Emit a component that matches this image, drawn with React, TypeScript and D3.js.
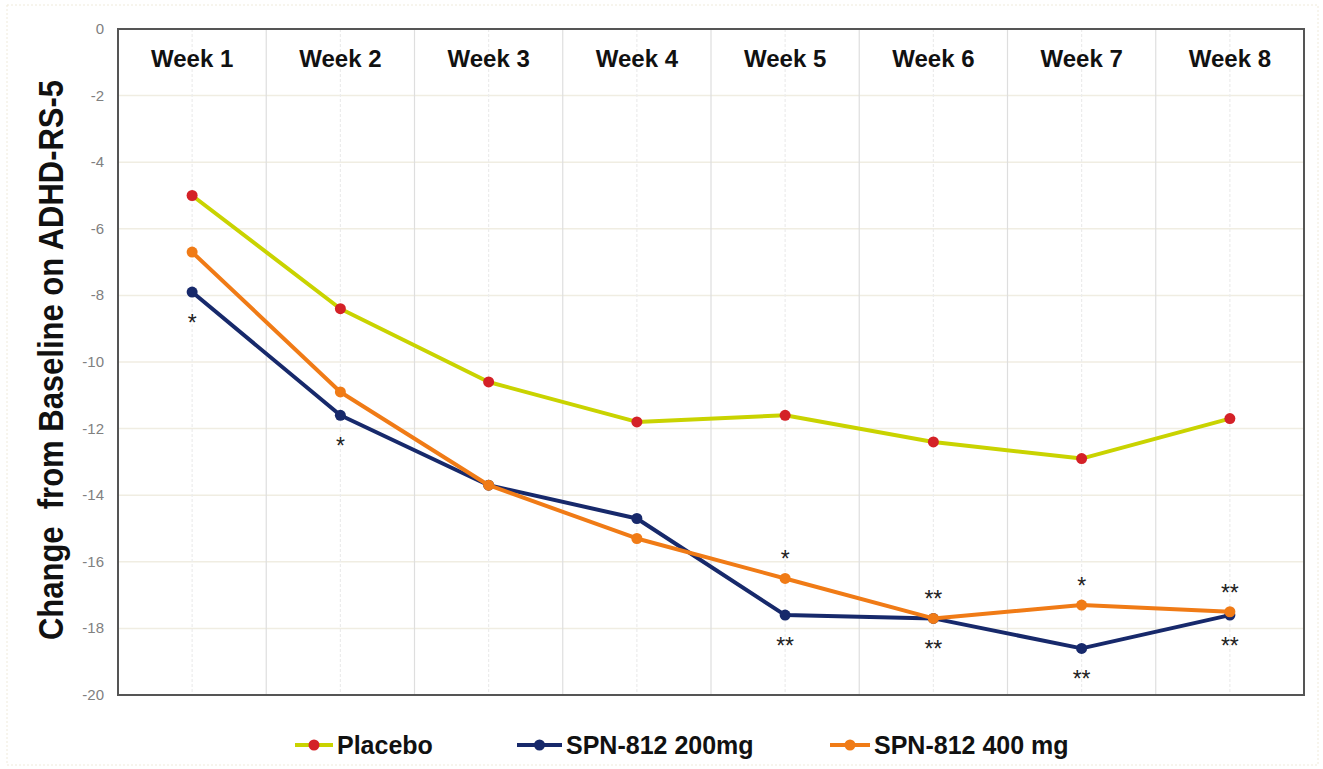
import React from "react";
import * as d3 from "d3";

const weeks = ["Week 1", "Week 2", "Week 3", "Week 4", "Week 5", "Week 6", "Week 7", "Week 8"];
const placebo = [-5.0, -8.4, -10.6, -11.8, -11.6, -12.4, -12.9, -11.7];
const spn200 = [-7.9, -11.6, -13.7, -14.7, -17.6, -17.7, -18.6, -17.6];
const spn400 = [-6.7, -10.9, -13.7, -15.3, -16.5, -17.7, -17.3, -17.5];
const yTicks = [0, -2, -4, -6, -8, -10, -12, -14, -16, -18, -20];
const sigAbove400 = ["", "", "", "", "*", "**", "*", "**"];
const sigBelow200 = ["*", "*", "", "", "**", "**", "**", "**"];

const seriesList = [
  { name: "Placebo", values: placebo, line: "#c9d300", dot: "#d42127" },
  { name: "SPN-812 200mg", values: spn200, line: "#17296b", dot: "#17296b" },
  { name: "SPN-812 400 mg", values: spn400, line: "#f07b16", dot: "#f07b16" },
];

const W = 1323, H = 769;
const left = 118, right = 1304, top = 29, bottom = 695;
const font = "'Liberation Sans', Arial, sans-serif";

export default function App() {
  const x = d3.scaleBand<string>().domain(weeks).range([left, right]);
  const y = d3.scaleLinear().domain([-20, 0]).range([bottom, top]);
  const cx = (i: number) => (x(weeks[i]) as number) + x.bandwidth() / 2;
  const line = d3.line<number>().x((_, i) => cx(i)).y((v) => y(v));

  const legendItems = [
    { s: seriesList[0], x0: 295, x1: 333, tx: 337 },
    { s: seriesList[1], x0: 517, x1: 562, tx: 566 },
    { s: seriesList[2], x0: 830, x1: 870, tx: 874 },
  ];

  return (
    <svg width={W} height={H} style={{ position: "absolute", left: 0, top: 0, background: "#fff" }}>
      <rect x={7} y={5} width={1311} height={760} fill="none" stroke="#efeadb" strokeWidth={1} strokeDasharray="2,2" />
      {yTicks.slice(1, -1).map((t) => (
        <line key={"h" + t} x1={left} x2={right} y1={y(t)} y2={y(t)} stroke="#f0ede2" strokeWidth={1.5} />
      ))}
      {weeks.map((w, i) => (
        <g key={"v" + w}>
          {i > 0 && (
            <line x1={x(w) as number} x2={x(w) as number} y1={top} y2={bottom} stroke="#dedede" strokeWidth={1.2} />
          )}
          <line x1={cx(i)} x2={cx(i)} y1={top} y2={bottom} stroke="#ececec" strokeWidth={1.2} strokeDasharray="3,2" />
        </g>
      ))}
      <rect x={left} y={top} width={right - left} height={bottom - top} fill="none" stroke="#555" strokeWidth={2} />
      {yTicks.map((t) => (
        <text key={"t" + t} x={104} y={y(t) + 5} textAnchor="end" fontFamily={font} fontSize={15} fill="#808080">
          {t}
        </text>
      ))}
      <text
        transform={`translate(63,360) rotate(-90) scale(1,1.15)`}
        textAnchor="middle"
        fontFamily={font}
        fontSize={31}
        fontWeight="bold"
        fill="#111"
        style={{ whiteSpace: "pre" }}
      >
        {"Change  from Baseline on ADHD-RS-5"}
      </text>
      {weeks.map((w, i) => (
        <text key={"w" + w} x={cx(i)} y={67} textAnchor="middle" fontFamily={font} fontSize={24} fontWeight="bold" fill="#111">
          {w}
        </text>
      ))}
      {seriesList.map((s) => (
        <g key={s.name}>
          <path d={line(s.values) as string} fill="none" stroke={s.line} strokeWidth={4} strokeLinejoin="round" />
          {s.values.map((v, i) => (
            <circle key={i} cx={cx(i)} cy={y(v)} r={5.5} fill={s.dot} />
          ))}
        </g>
      ))}
      {sigAbove400.map((s, i) =>
        s ? (
          <text key={"a" + i} x={cx(i)} y={y(spn400[i]) - 11} textAnchor="middle" fontFamily={font} fontSize={23} fill="#222">
            {s}
          </text>
        ) : null
      )}
      {sigBelow200.map((s, i) =>
        s ? (
          <text key={"b" + i} x={cx(i)} y={y(spn200[i]) + 39} textAnchor="middle" fontFamily={font} fontSize={23} fill="#222">
            {s}
          </text>
        ) : null
      )}
      {legendItems.map((it) => (
        <g key={"l" + it.s.name}>
          <line x1={it.x0} x2={it.x1} y1={745} y2={745} stroke={it.s.line} strokeWidth={4} />
          <circle cx={(it.x0 + it.x1) / 2} cy={745} r={5.5} fill={it.s.dot} />
          <text x={it.tx} y={754} fontFamily={font} fontSize={25} fontWeight="bold" fill="#111">
            {it.s.name}
          </text>
        </g>
      ))}
    </svg>
  );
}
